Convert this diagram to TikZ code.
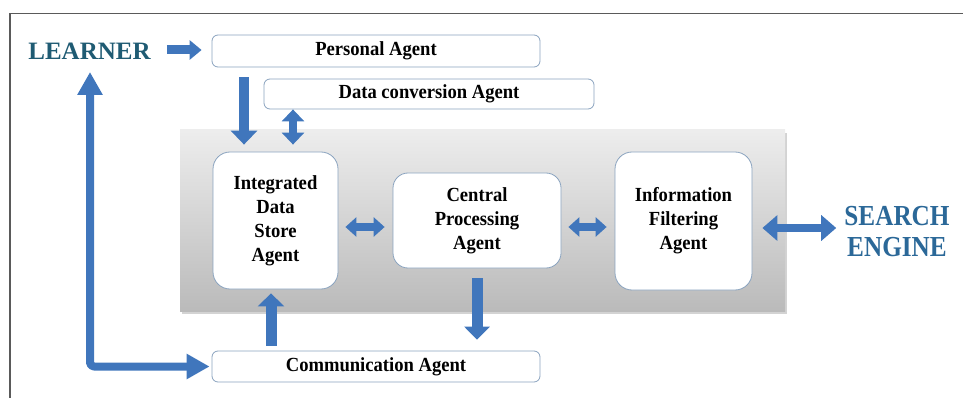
\documentclass[tikz,border=0pt]{standalone}
\usepackage{fontspec}
\setmainfont{Liberation Serif}
\usepackage{graphicx}
\usetikzlibrary{arrows.meta,shadows}

\definecolor{arrowblue}{HTML}{4076BC}
\definecolor{boxline}{HTML}{8AA3BF}
\definecolor{learnerteal}{HTML}{1F5B73}
\definecolor{engineblue}{HTML}{2B6898}
\definecolor{framegray}{HTML}{5A5A5A}

% slightly condensed text, as in the box labels
\newcommand\narrowtext[1]{\scalebox{0.93}[1]{#1}}
\newcommand\stacked[1]{\begin{tabular}{@{}c@{}}#1\end{tabular}}

\begin{document}
\begin{tikzpicture}[x=1pt,y=-1pt,
  agentbox/.style={draw=boxline, line width=0.8pt, fill=white,
    rounded corners=#1, inner sep=0pt,
    font=\fontsize{20}{24}\selectfont\bfseries},
  agentbox/.default=6pt,
  panelbox/.style={draw=none, inner sep=0pt, top color=black!7,
    bottom color=black!27,
    drop shadow={shadow xshift=2pt, shadow yshift=-3pt, opacity=0.35}},
  headline/.style={font=\fontsize{25}{30}\selectfont\bfseries, inner sep=0pt},
  flow/.style={draw=arrowblue, line width=#1, line join=round},
  flow/.default=10pt,
]
\useasboundingbox (0,0) rectangle (963,398);

% outer frame (top and left edges only)
\draw[framegray, line width=1.5pt] (963,13.5) -- (10,13.5) -- (10,398);

% grey panel holding the three core agents
\node[panelbox, minimum width=605pt, minimum height=181pt] (panel) at (482.5,220.5) {};

% agents
\node[agentbox, minimum width=328pt, minimum height=32pt] (pa) at (376,51)
  {\narrowtext{Personal Agent}};
\node[agentbox, minimum width=330pt, minimum height=30pt] (dc) at (429,94)
  {\narrowtext{Data conversion Agent}};
\node[agentbox=17pt, minimum width=125pt, minimum height=137pt] (ids) at (275.5,220.5)
  {\narrowtext{\stacked{Integrated\\Data\\Store\\Agent}}};
\node[agentbox=15pt, minimum width=168pt, minimum height=95pt] (cpa) at (477,220.5)
  {\narrowtext{\stacked{Central\\Processing\\Agent}}};
\node[agentbox=17pt, minimum width=137pt, minimum height=138pt] (ifa) at (683.5,221)
  {\narrowtext{\stacked{Information\\Filtering\\Agent}}};
\node[agentbox, minimum width=328pt, minimum height=31pt] (ca) at (376,366.5)
  {\narrowtext{Communication Agent}};

% end points
\node[headline, text=learnerteal, anchor=base] (learner) at (89.5,60) {LEARNER};
\node[headline, text=engineblue, font=\fontsize{29}{31}\selectfont\bfseries]
  (se) at (897,235) {\scalebox{0.87}[1]{\stacked{SEARCH\\ENGINE}}};
\coordinate (lup) at (90,72);

% connectors
\draw[flow=9pt, -{Triangle[length=12pt,width=19pt]}, shorten <=16pt, shorten >=10pt]
  (learner.east |- 0,50) -- (pa.west |- 0,50);
\draw[flow=10.5pt, -{Triangle[length=14pt,width=26pt]}, shorten <=10pt, shorten >=7pt]
  (pa.south -| 244,0) -- (ids.north -| 244,0);
\draw[flow=8pt, {Triangle[length=12pt,width=22pt]}-{Triangle[length=12pt,width=22pt]}, shorten >=7pt]
  (dc.south -| 293,0) -- (ids.north -| 293,0);
\draw[flow=8pt, {Triangle[length=11pt,width=19pt]}-{Triangle[length=11pt,width=19pt]}, shorten <=7pt, shorten >=8pt]
  (ids.east |- 0,227) -- (cpa.west |- 0,227);
\draw[flow=8pt, {Triangle[length=11pt,width=19pt]}-{Triangle[length=11pt,width=19pt]}, shorten <=7pt, shorten >=8pt]
  (cpa.east |- 0,227) -- (ifa.west |- 0,227);
\draw[flow=8pt, {Triangle[length=15pt,width=25pt]}-{Triangle[length=15pt,width=25pt]}, shorten <=10pt, shorten >=8pt]
  (ifa.east |- 0,228) -- (se.west |- 0,228);
\draw[flow=11pt, -{Triangle[length=13pt,width=25pt]}, shorten <=10pt, shorten >=11pt]
  (cpa.south -| 477,0) -- (ca.north -| 477,0);
\draw[flow=11pt, -{Triangle[length=13pt,width=26pt]}, shorten <=5pt, shorten >=4pt]
  (ca.north -| 271,0) -- (ids.south -| 271,0);
\draw[flow=8pt, rounded corners=4pt, {Triangle[length=23pt,width=24pt]}-{Triangle[length=23pt,width=24pt]}, shorten <=2pt]
  (ca.west) -| (lup);
\end{tikzpicture}
\end{document}
